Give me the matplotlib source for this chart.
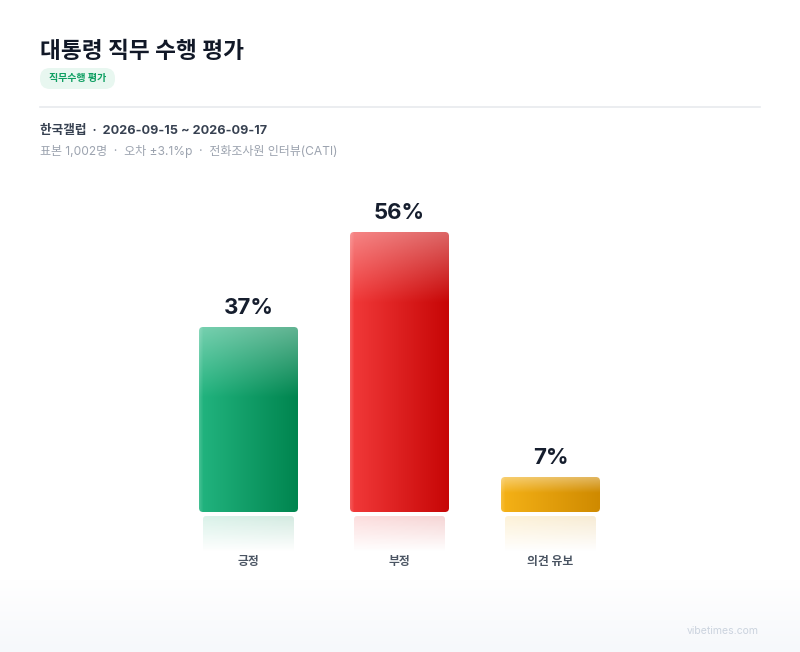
import numpy as np
import matplotlib
matplotlib.use("Agg")
import matplotlib.pyplot as plt
from matplotlib.patches import FancyBboxPatch
from matplotlib.colors import to_rgb

plt.rcParams['font.family'] = ['Inter', 'Noto Sans CJK KR', 'DejaVu Sans']

# ---------------- data ----------------
title = "대통령 직무 수행 평가"
badge = "직무수행 평가"
source_line = "한국갤럽  ·  2026-09-15 ~ 2026-09-17"
meta_line = "표본 1,002명  ·  오차 ±3.1%p  ·  전화조사원 인터뷰(CATI)"
categories = ["긍정", "부정", "의견 유보"]
values = [37, 56, 7]
left_colors = ["#22b47f", "#f23a3a", "#f5b217"]
right_colors = ["#00854f", "#c70606", "#cf8a00"]
footer = "vibetimes.com"

W, H = 800, 652
fig = plt.figure(figsize=(W / 100, H / 100), dpi=100)
fig.patch.set_facecolor("white")

def fx(x):
    return x / W

def fy(y):
    return 1 - y / H

# background axes (pixel coords)
bg = fig.add_axes([0, 0, 1, 1], zorder=-5)
bg.axis("off")
gy = np.linspace(0, 1, 100)[:, None]
top_c = np.array([1, 1, 1])
bot_c = np.array(to_rgb("#f6f8fb"))
grad = top_c * (1 - gy[..., None]) + bot_c * gy[..., None]
grad = np.repeat(grad, 2, axis=1)
bg.imshow(grad, extent=(0, W, H, 580), aspect="auto", zorder=0)
bg.set_xlim(0, W)
bg.set_ylim(H, 0)
bg.plot([40, 760], [107, 107], color="#e8eaee", lw=1.2, zorder=1)
pill = FancyBboxPatch((40, 68), 75, 21, boxstyle="round,pad=0,rounding_size=10",
                      fc="#e8f7f0", ec="none", zorder=1)
bg.add_patch(pill)

fig.text(fx(40), fy(51.5), title, fontsize=16.3, fontweight="bold", color="#111827",
         va="center", ha="left")
fig.text(fx(77.5), fy(78.5), badge, fontsize=7.2, fontweight="bold", color="#0e9f62",
         va="center", ha="center")
fig.text(fx(40), fy(130.5), source_line, fontsize=9.1, fontweight="bold", color="#374151",
         va="center", ha="left")
fig.text(fx(40), fy(151.5), meta_line, fontsize=8.65, color="#9ca3af",
         va="center", ha="left")
fig.text(fx(759), fy(631), footer, fontsize=7.5, color="#cbd3de",
         va="center", ha="right")

# ---------------- main axes ----------------
px_per_unit = 5.0
ymin, ymax = -8, 60
ax_top = 512 - ymax * px_per_unit
ax_bot = 512 - ymin * px_per_unit
ax = fig.add_axes([fx(173), fy(ax_bot), 453 / W, (ax_bot - ax_top) / H])
ax.axis("off")
x = np.arange(len(categories))
bar_w = 99 / 151
bars = ax.bar(x, values, width=bar_w, color="none", edgecolor="none")

xu = 1 / 151.0  # x units per px
yu = 1 / px_per_unit
aspect = yu / xu

def hgrad(c1, c2, n=200, m=100):
    c1 = np.array(to_rgb(c1)); c2 = np.array(to_rgb(c2))
    t = np.linspace(0, 1, m)[None, :, None]
    img = c1 * (1 - t) + c2 * t
    return np.repeat(img, n, axis=0)

for b, c1, c2, val, lab in zip(bars, left_colors, right_colors, values, categories):
    x0, w, h = b.get_x(), b.get_width(), b.get_height()
    patch = FancyBboxPatch((x0, 0), w, h,
                           boxstyle=f"round,pad=0,rounding_size={4 * xu}",
                           mutation_aspect=aspect, fc="none", ec="none", zorder=2)
    ax.add_patch(patch)
    n = 200
    img = hgrad(c1, c2, n=n)
    hpx = h * px_per_unit
    ty = np.linspace(0, hpx, n)[:, None, None]
    hl_len = min(70, hpx * 0.45)
    hl = np.clip(1 - ty / hl_len, 0, 1) * 0.38
    img = img * (1 - hl) + hl
    tx = np.linspace(0, 99, img.shape[1])[None, :, None]
    glint = np.clip(1 - tx / 4, 0, 1) * 0.15
    img = img * (1 - glint) + glint
    im = ax.imshow(img, extent=(x0, x0 + w, 0, h), origin="upper", aspect="auto", zorder=2)
    im.set_clip_path(patch)

    # reflection
    rw = 91 * xu
    rx0 = x0 + (w - rw) / 2
    r_top = -4 * yu
    r_h = 36 * yu
    rpatch = FancyBboxPatch((rx0, r_top - r_h), rw, r_h,
                            boxstyle=f"round,pad=0,rounding_size={3 * xu}",
                            mutation_aspect=aspect, fc="none", ec="none", zorder=1)
    ax.add_patch(rpatch)
    rimg = np.zeros((100, 100, 4))
    rimg[..., :3] = hgrad(c1, c2, n=100, m=100)
    rimg[..., 3] = np.linspace(0.17, 0.0, 100)[:, None]
    rim = ax.imshow(rimg, extent=(rx0, rx0 + rw, r_top - r_h, r_top), origin="upper",
                    aspect="auto", zorder=1)
    rim.set_clip_path(rpatch)

    ax.text(x0 + w / 2, h + 19 * yu, f"{val}%", ha="center", va="center",
            fontsize=16, fontweight="bold", color="#161e2e")
    ax.text(x0 + w / 2, -50 * yu, lab,
            ha="center", va="center", fontsize=8.5, fontweight="bold", color="#4b5563")

ax.set_xlim(-0.5, 2.5)
ax.set_ylim(ymin, ymax)

fig.savefig("out.png", dpi=100, facecolor="white")
